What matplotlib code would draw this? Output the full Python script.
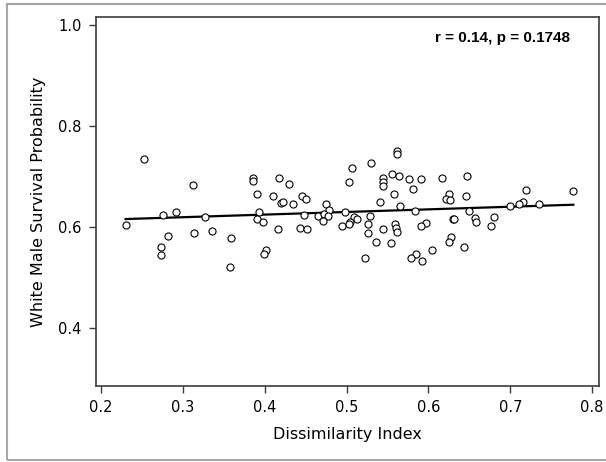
#!/usr/bin/env python3
"""Scatter of white male survival probability against the dissimilarity index."""

import matplotlib

matplotlib.use("Agg")
import matplotlib.pyplot as plt
import numpy as np
from matplotlib.patches import Rectangle

dissimilarity = [
    0.253, 0.312, 0.230, 0.276, 0.291, 0.327, 0.282, 0.314, 0.335, 0.359,
    0.273, 0.273, 0.358,
    0.506, 0.386, 0.386, 0.417, 0.430, 0.503, 0.390, 0.410, 0.446, 0.450,
    0.420, 0.422, 0.435, 0.475, 0.478, 0.393, 0.498, 0.448, 0.465, 0.472,
    0.477, 0.509, 0.391, 0.398, 0.471, 0.504, 0.513, 0.503, 0.494, 0.416,
    0.443, 0.451, 0.401, 0.399,
    0.562, 0.561, 0.530, 0.556, 0.564, 0.545, 0.544, 0.544, 0.576, 0.591,
    0.616, 0.647, 0.581, 0.558, 0.625, 0.622, 0.626, 0.646, 0.541, 0.565,
    0.583, 0.649, 0.529, 0.657, 0.658, 0.630, 0.631, 0.526, 0.559, 0.560,
    0.562, 0.597, 0.591, 0.545, 0.526, 0.628, 0.625, 0.536, 0.554, 0.643,
    0.604, 0.585, 0.579, 0.592, 0.523,
    0.719, 0.777, 0.716, 0.710, 0.699, 0.735, 0.680, 0.676,
]
survival = [
    0.735, 0.683, 0.604, 0.624, 0.630, 0.620, 0.582, 0.588, 0.592, 0.578,
    0.560, 0.544, 0.520,
    0.717, 0.696, 0.690, 0.697, 0.684, 0.689, 0.665, 0.661, 0.661, 0.655,
    0.647, 0.649, 0.646, 0.645, 0.634, 0.630, 0.629, 0.623, 0.622, 0.626,
    0.622, 0.620, 0.615, 0.609, 0.611, 0.610, 0.616, 0.605, 0.601, 0.595,
    0.597, 0.596, 0.554, 0.546,
    0.751, 0.745, 0.727, 0.705, 0.700, 0.696, 0.689, 0.681, 0.694, 0.695,
    0.696, 0.701, 0.675, 0.665, 0.665, 0.655, 0.653, 0.662, 0.650, 0.642,
    0.632, 0.632, 0.622, 0.618, 0.610, 0.616, 0.616, 0.606, 0.606, 0.597,
    0.590, 0.607, 0.601, 0.595, 0.588, 0.581, 0.570, 0.570, 0.568, 0.560,
    0.554, 0.546, 0.538, 0.532, 0.539,
    0.674, 0.671, 0.650, 0.645, 0.642, 0.646, 0.620, 0.602,
]
x_ticks = [0.2, 0.3, 0.4, 0.5, 0.6, 0.7, 0.8]
y_ticks = [0.4, 0.6, 0.8, 1.0]
stats_label = "r = 0.14, p = 0.1748"


def main() -> None:
    x = np.asarray(dissimilarity)
    y = np.asarray(survival)
    slope, intercept = np.polyfit(x, y, 1)
    fit_x = np.array([x.min(), x.max()])

    spine = "#3c3c3c"
    fig = plt.figure(figsize=(6.06, 4.62), dpi=100)
    fig.patches.append(
        Rectangle((7 / 606, 2 / 462), 1.2, 456 / 462, transform=fig.transFigure,
                  fill=False, edgecolor="#a6a6a6", linewidth=1.5)
    )
    ax = fig.add_axes([0.158, 0.1645, 0.83, 0.798])

    ax.scatter(x, y, s=26, facecolors="white", edgecolors="black",
               linewidths=0.8, zorder=3)
    ax.plot(fit_x, intercept + slope * fit_x, color="black", linewidth=1.6, zorder=2)

    ax.set_xlim(0.1935, 0.808)
    ax.set_ylim(0.285, 1.015)
    ax.set_xticks(x_ticks, [f"{t:.1f}" for t in x_ticks])
    ax.set_yticks(y_ticks, [f"{t:.1f}" for t in y_ticks])
    for side in ax.spines.values():
        side.set_color(spine)
        side.set_linewidth(1.2)
    ax.tick_params(direction="out", length=5, width=1.0, color=spine,
                   labelsize=10.5, pad=5, labelcolor="black")

    ax.set_xlabel("Dissimilarity Index", fontsize=11.5, labelpad=9)
    ax.set_ylabel("White Male Survival Probability", fontsize=11.5, labelpad=9)
    ax.text(0.943, 0.944, stats_label, transform=ax.transAxes, ha="right",
            va="center", fontsize=11, fontweight="bold", family="Liberation Sans")

    fig.savefig("out.png", dpi=100)
    plt.close(fig)


if __name__ == "__main__":
    main()
